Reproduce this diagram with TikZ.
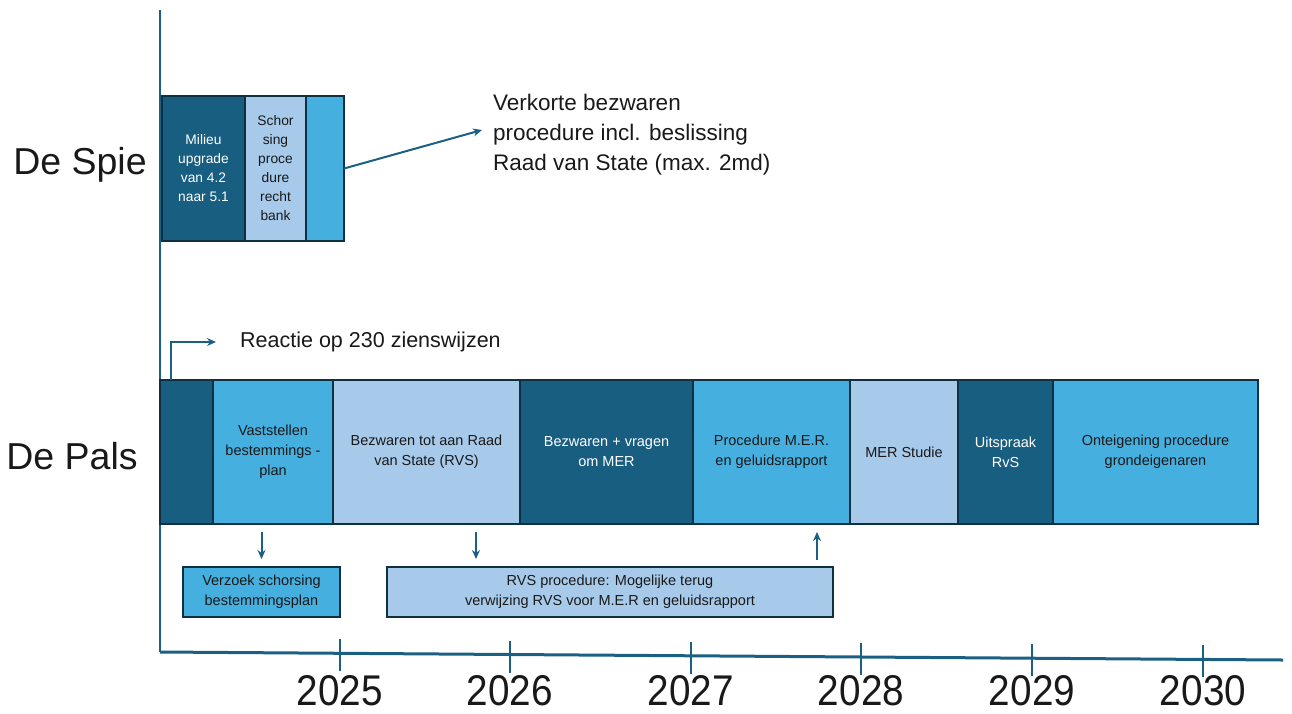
\documentclass[tikz,border=0pt]{standalone}
\usepackage{fontspec}
\setmainfont{Liberation Sans}
\usetikzlibrary{positioning,arrows.meta}
\definecolor{darkphase}{HTML}{175E81}
\definecolor{midphase}{HTML}{45AFE0}
\definecolor{lightphase}{HTML}{A7CAEB}
\definecolor{rim}{HTML}{0E3040}
\definecolor{axisblue}{HTML}{1A6083}

\begin{document}
\begin{tikzpicture}[x=1pt, y=-1pt,
				phase/.style={rectangle, draw=rim, line width=2pt, minimum height=144pt, inner sep=0pt, outer sep=0pt, align=center, font=\fontsize{14.5}{20}\selectfont},
				darkbox/.style={phase, fill=darkphase, text=white},
				midbox/.style={phase, fill=midphase, text=black!90},
				lightbox/.style={phase, fill=lightphase, text=black!90},
				spie/.style={minimum height=145pt, font=\fontsize{13.8}{19}\selectfont},
				note/.style={rectangle, draw=rim, line width=2pt, minimum height=50pt, inner sep=0pt, align=center, text=black!90, font=\fontsize{14.5}{20}\selectfont},
				project/.style={inner sep=0pt, text=black!90, font=\fontsize{37.5}{40}\selectfont},
				caption/.style={inner sep=0pt, align=left, text=black!90},
				year/.style={inner sep=0pt, text=black!90, font=\fontsize{43}{45}\selectfont}
			]
			\useasboundingbox (0,0) rectangle (1292,713);
			% time axis
			\coordinate (axistop) at (160,10);
			\coordinate (origin) at (160,652);
			\coordinate (axisend) at (1283,660);
			\draw[axisblue, line width=2pt] (axistop) -- (origin);
			\draw[axisblue, line width=3pt] (origin) -- (axisend);
			\foreach \tx/\yr in {340/2025, 510/2026, 691/2027, 861/2028, 1032/2029, 1203/2030} {
				\pgfmathsetmacro\ty{652+(\tx-160)*8/1123}
				\draw[axisblue, line width=1.5pt] (\tx,\ty-14) -- (\tx,\ty+18);
				\node[year] (year\yr) at (\tx,691) {\scalebox{0.9}[1]{\yr}};
			}
			% projects
			\node[project] (depsie) at (80,165) {De Spie};
			\node[project] (depals) at (72,456) {De Pals};
			% De Spie
			\node[darkbox, spie, minimum width=83pt, anchor=west] (spieone) at (162,168.5) {Milieu\\upgrade\\van 4.2\\naar 5.1};
			\node[lightbox, spie, minimum width=61pt] (spietwo) [right=0pt of spieone] {Schor\\sing\\proce\\dure\\recht\\bank};
			\node[midbox, spie, minimum width=38pt] (spiethree) [right=0pt of spietwo] {};
			\node[caption, font=\fontsize{22.5}{30}\selectfont, anchor=west] (verkorte) at (493,135) {Verkorte bezwaren\\procedure incl. beslissing\\Raad van State (max. 2md)};
			% De Pals
			\node[darkbox, minimum width=53pt, anchor=west] (palsone) at (160,452) {};
			\node[midbox, minimum width=120pt] (palstwo) [right=0pt of palsone] {Vaststellen\\bestemmings -\\plan};
			\node[lightbox, minimum width=187pt] (palsthree) [right=0pt of palstwo] {Bezwaren tot aan Raad\\van State (RVS)};
			\node[darkbox, minimum width=173pt] (palsfour) [right=0pt of palsthree] {Bezwaren + vragen\\om MER};
			\node[midbox, minimum width=157pt] (palsfive) [right=0pt of palsfour] {Procedure M.E.R.\\en geluidsrapport};
			\node[lightbox, minimum width=108pt] (palssix) [right=0pt of palsfive] {MER Studie};
			\node[darkbox, minimum width=95pt] (palsseven) [right=0pt of palssix] {Uitspraak\\RvS};
			\node[midbox, minimum width=205pt] (palseight) [right=0pt of palsseven] {Onteigening procedure\\grondeigenaren};
			\node[caption, font=\fontsize{21.5}{26}\selectfont, anchor=west] (reactie) at (240,342) {Reactie op 230 zienswijzen};
			\node[note, fill=midphase, minimum width=157pt] (verzoek) at (261.5,592) {Verzoek schorsing\\bestemmingsplan};
			\node[note, fill=lightphase, minimum width=446pt] (rvsproc) at (610,592) {RVS procedure: Mogelijke terug\\verwijzing RVS voor M.E.R en geluidsrapport};
			\begin{scope}[axisblue, line width=2pt, -{Stealth[length=9pt, width=8pt]}]
			\draw (spiethree.east) -- ([xshift=-11pt, yshift=5pt]verkorte.west);
			\draw[shorten >=24pt] ([xshift=11pt]palsone.north west) |- (reactie.west);
			\draw[shorten <=8pt, shorten >=7pt] (verzoek.north |- palstwo.south) -- (verzoek.north);
			\draw[shorten <=8pt, shorten >=7pt] ([xshift=90pt]rvsproc.north west |- palsthree.south) -- ([xshift=90pt]rvsproc.north west);
			\draw[shorten <=6pt, shorten >=8pt] ([xshift=-17pt]rvsproc.north east) -- ([xshift=-17pt]rvsproc.north east |- palsfive.south);
			\end{scope}
			\end{tikzpicture}
\end{document}
